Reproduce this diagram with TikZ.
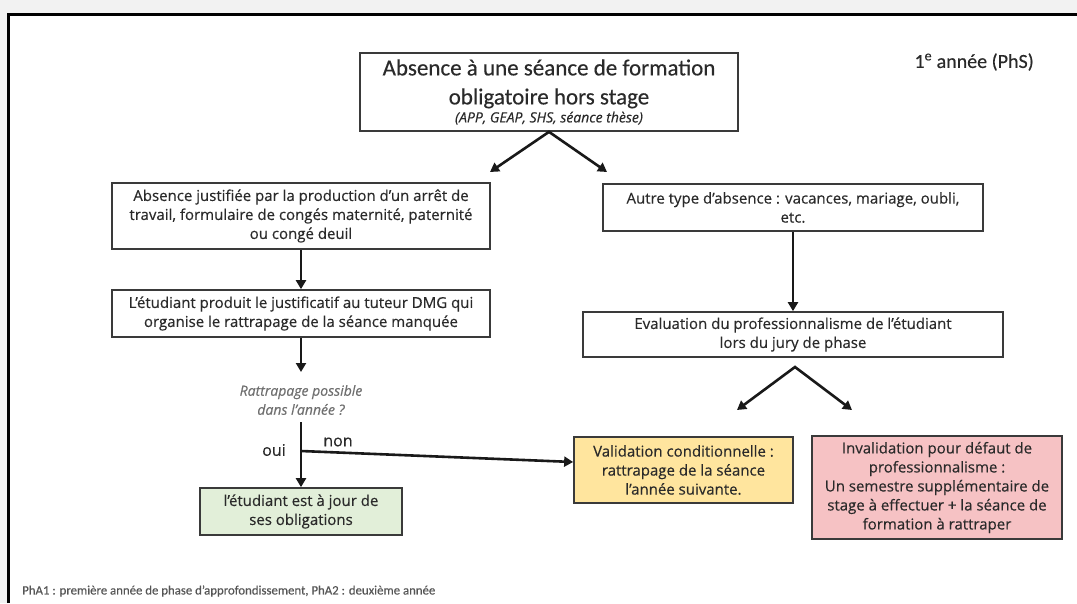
\documentclass[tikz,border=0pt]{standalone}
\usepackage{fontspec}
\setmainfont{Open Sans}[FakeBold=0.35]
\newfontfamily\calib{Carlito}[FakeBold=0.3]
\usetikzlibrary{arrows.meta}
\definecolor{bg}{HTML}{F2F2F2}
\definecolor{txt}{HTML}{2A2A2A}
\definecolor{bord}{HTML}{3A3A3A}
\definecolor{gfill}{HTML}{E2EFD9}
\definecolor{yfill}{HTML}{FFE59E}
\definecolor{pfill}{HTML}{F6C2C4}
\definecolor{qgray}{HTML}{707070}
\definecolor{footc}{HTML}{555555}
\begin{document}
\begin{tikzpicture}[x=1pt,y=-1pt,
  box/.style={draw=bord, line width=1.7pt, align=center, text=txt, inner sep=0pt,
    font=\fontsize{15}{19}\selectfont},
  arr/.style={line width=2.6pt, draw=black!90, -{Triangle[length=9pt,width=10pt]}},
  arrs/.style={line width=2.6pt, draw=black!90, {Triangle[length=9pt,width=10pt]}-{Triangle[length=9pt,width=10pt]}},
  lbl/.style={text=txt, inner sep=0pt}]
\useasboundingbox (0,0) rectangle (1077,603);
\fill[bg] (0,0) rectangle (1077,603);
\fill[white] (8.5,14.5) rectangle (1077,603);
\draw[line width=2.8pt] (8.5,603) -- (8.5,14.5) -- (1077,14.5);

\node[box, minimum width=378, minimum height=78, font=\calib\fontsize{23}{29}\selectfont] (top) at (549,92)
  {Absence à une séance de formation\\
   obligatoire hors stage\\[-11pt]
   \normalfont\itshape\fontsize{14}{17}\selectfont (APP, GEAP, SHS, séance thèse)};

\node[lbl, anchor=east, font=\calib\fontsize{20}{22}\selectfont] (yr) at (1034,62)
  {1\textsuperscript{e} année (PhS)};

\node[box, minimum width=378, minimum height=66] (b1) at (301,216)
  {Absence justifiée par la production d’un arrêt de\\travail, formulaire de congés maternité, paternité\\ou congé deuil};
\node[box, minimum width=378, minimum height=47] (b2) at (301,313.5)
  {L’étudiant produit le justificatif au tuteur DMG qui\\organise le rattrapage de la séance manquée};
\node[box, minimum width=380, minimum height=47] (autre) at (793,207.5)
  {Autre type d’absence : vacances, mariage, oubli,\\etc.};
\node[box, minimum width=420, minimum height=45] (eval) at (793,334.5)
  {Evaluation du professionnalisme de l’étudiant\\lors du jury de phase};

\node[lbl, text=qgray, align=center, font=\itshape\fontsize{14}{19}\selectfont] (dec) at (301,400)
  {Rattrapage possible\\dans l’année ?};

\node[box, fill=gfill, minimum width=202, minimum height=47] (green) at (301,511.5)
  {l’étudiant est à jour de\\ses obligations};
\node[box, fill=yfill, minimum width=219, minimum height=66] (yellow) at (683.5,470)
  {Validation conditionnelle :\\rattrapage de la séance\\l’année suivante.};
\node[box, fill=pfill, minimum width=250, minimum height=103] (pink) at (937,487.5)
  {Invalidation pour défaut de\\professionnalisme :\\Un semestre supplémentaire de\\stage à effectuer + la séance de\\formation à rattraper};

\node[lbl, font=\fontsize{16}{18}\selectfont] (oui) at (274,450) {oui};
\node[lbl, font=\fontsize{16}{18}\selectfont] (non) at (338,442) {non};

\node[lbl, text=footc, anchor=west, font=\calib\fontsize{12.8}{14}\selectfont] (foot) at (22,591)
  {PhA1 : première année de phase d’approfondissement, PhA2 : deuxième année};

% connectors
\coordinate (t1) at (490,172);
\coordinate (t2) at (607,172);
\draw[arrs] (t1) -- (top.south) -- (t2);
\draw[arr] (b1.south) -- (b2.north);
\coordinate (d1) at (301,372);
\draw[arr] (b2.south) -- (d1);
\coordinate (d2) at (301,422);
\draw[arr] (d2) -- (green.north);
\coordinate (br) at (301,451);
\coordinate (yin) at ([yshift=8pt]yellow.west);
\draw[arr] (br) -- (yin);
\draw[arr] (autre.south) -- (eval.north);
\coordinate (ea) at (795,367);
\coordinate (e1) at (737,410);
\coordinate (e2) at (852,410);
\draw[arrs] (e1) -- (ea) -- (e2);
\end{tikzpicture}
\end{document}
